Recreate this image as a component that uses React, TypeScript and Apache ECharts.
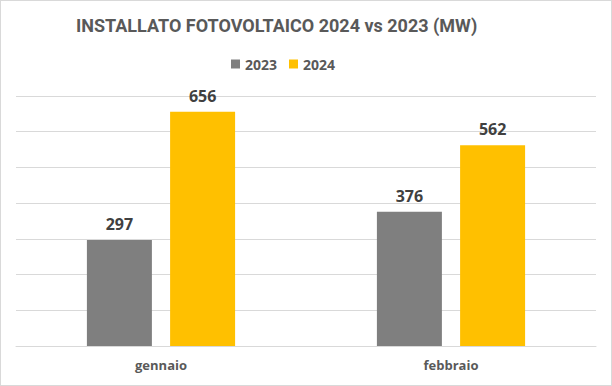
import React, { useEffect, useRef } from "react";
import * as echarts from "echarts";

const categories = ["gennaio", "febbraio"];
const seriesNames = ["2023", "2024"];
const values2023 = [297, 376];
const values2024 = [656, 562];
const colors = ["#7f7f7f", "#ffc000"];

export default function App() {
  const ref = useRef<HTMLDivElement>(null);
  useEffect(() => {
    if (!ref.current) return;
    const chart = echarts.init(ref.current, undefined, { renderer: "svg" });
    const font = "'Open Sans', sans-serif";
    chart.setOption({
      animation: false,
      backgroundColor: "#ffffff",
      title: {
        text: "INSTALLATO FOTOVOLTAICO 2024 vs 2023 (MW)",
        left: 70,
        top: 10,
        textStyle: { fontFamily: "Roboto, sans-serif", fontWeight: "bold", fontSize: 18, color: "#595959" },
      },
      legend: {
        data: seriesNames,
        top: 51,
        left: 225,
        itemWidth: 9,
        itemHeight: 9,
        itemGap: 12,
        icon: "rect",
        textStyle: { fontFamily: font, fontWeight: "bold", fontSize: 14, color: "#595959" },
      },
      grid: { left: 15, right: 15, top: 95, bottom: 39, containLabel: false },
      xAxis: {
        type: "category",
        data: categories,
        axisLine: { lineStyle: { color: "#d9d9d9" } },
        axisTick: { show: false },
        axisLabel: { fontFamily: font, fontWeight: "bold", fontSize: 13, color: "#595959", margin: 12 },
      },
      yAxis: {
        type: "value",
        min: 0,
        max: 700,
        interval: 100,
        axisLabel: { show: false },
        axisLine: { show: false },
        axisTick: { show: false },
        splitLine: { lineStyle: { color: "#d9d9d9" } },
      },
      series: [
        {
          name: seriesNames[0],
          type: "bar",
          data: values2023,
          barWidth: 65,
          barGap: "28%",
          itemStyle: { color: colors[0] },
          label: { show: true, position: "top", distance: 8, fontFamily: font, fontWeight: "bold", fontSize: 16, color: "#404040" },
        },
        {
          name: seriesNames[1],
          type: "bar",
          data: values2024,
          barWidth: 65,
          barGap: "28%",
          itemStyle: { color: colors[1] },
          label: { show: true, position: "top", distance: 8, fontFamily: font, fontWeight: "bold", fontSize: 16, color: "#404040" },
        },
      ],
    });
    return () => chart.dispose();
  }, []);
  return (
    <div
      style={{
        position: "absolute",
        left: 0,
        top: 0,
        width: 612,
        height: 386,
        boxSizing: "border-box",
        border: "1px solid #d9d9d9",
      }}
    >
      <div ref={ref} style={{ width: 610, height: 384 }} />
    </div>
  );
}
